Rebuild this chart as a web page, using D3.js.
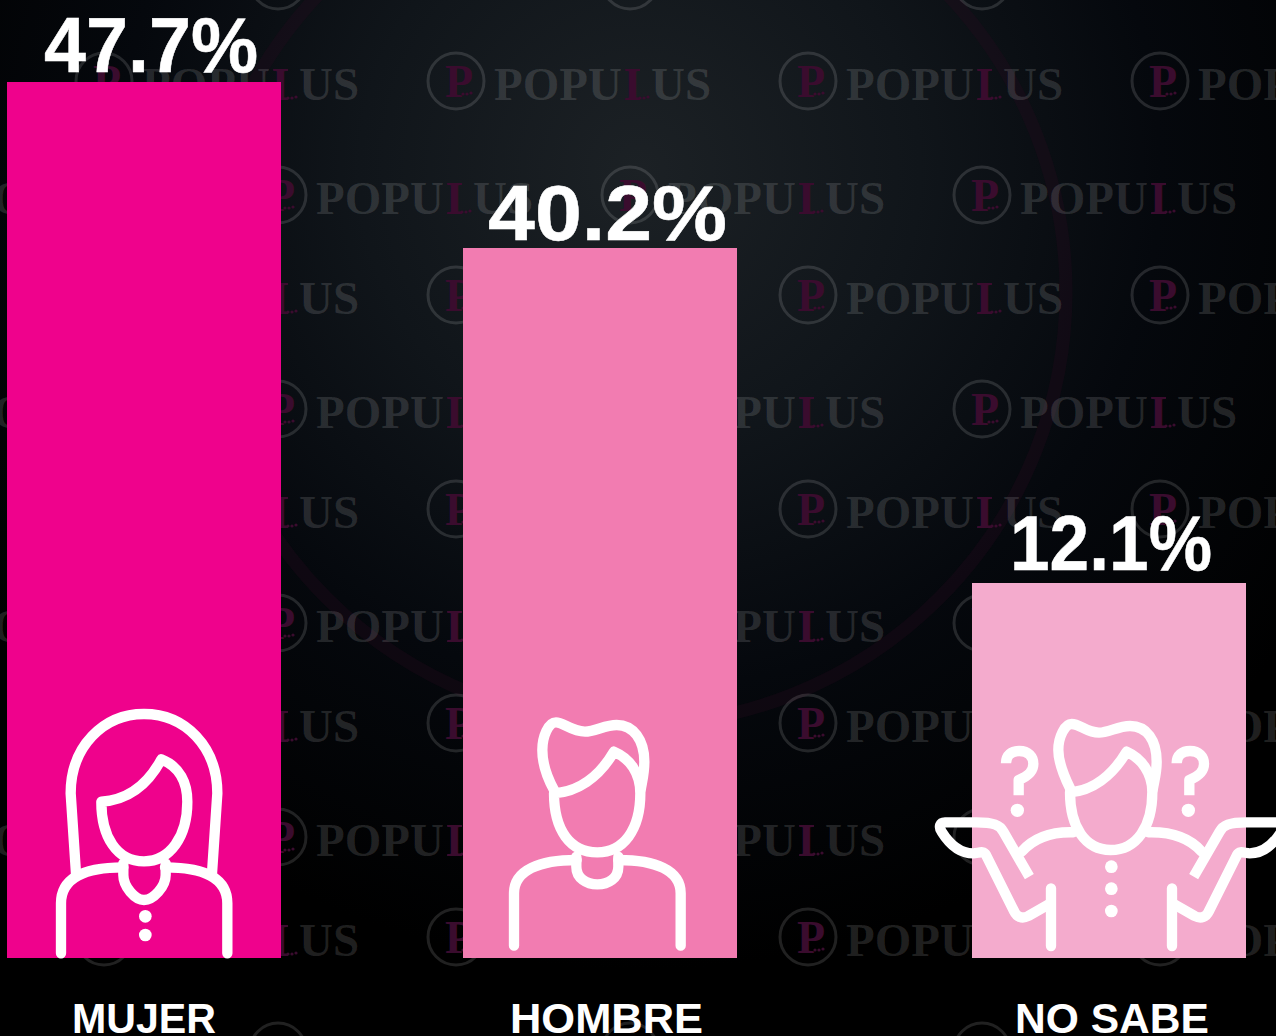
<!DOCTYPE html>
<html>
<head>
<meta charset="utf-8">
<script src="https://cdn.jsdelivr.net/npm/d3@7"></script>
<style>
  html, body { margin: 0; padding: 0; background: #000; overflow: hidden; }
  svg { display: block; }
</style>
</head>
<body>
<svg id="chart" width="1276" height="1036"></svg>
<script>
const categorias = ['MUJER', 'HOMBRE', 'NO SABE'];
const valores = [47.7, 40.2, 12.1];
const cores = ['#ef028c', '#f27cb1', '#f4abcd'];

const width = 1276;
const height = 1036;
const baseY = 958;
const barWidth = 274;

const svg = d3.select('#chart');

/*fundo*/
const defs = svg.append('defs');
const grad = defs.append('radialGradient')
    .attr('id', 'fundo')
    .attr('gradientUnits', 'userSpaceOnUse')
    .attr('cx', 640).attr('cy', 170).attr('r', 800);
grad.append('stop').attr('offset', '0%').attr('stop-color', '#1c2125');
grad.append('stop').attr('offset', '35%').attr('stop-color', '#10151a');
grad.append('stop').attr('offset', '65%').attr('stop-color', '#05080d');
grad.append('stop').attr('offset', '100%').attr('stop-color', '#000000');

/*so a haste do L aparece na marca d'agua*/
defs.append('clipPath')
    .attr('id', 'hasteL')
    .append('rect')
    .attr('x', 197).attr('y', -25).attr('width', 15).attr('height', 45);

svg.append('rect')
    .attr('width', width)
    .attr('height', height)
    .attr('fill', 'url(#fundo)');

svg.append('circle')
    .attr('cx', 633).attr('cy', 292).attr('r', 433)
    .attr('fill', 'none')
    .attr('stroke', '#2a0a22')
    .attr('stroke-opacity', 0.28)
    .attr('stroke-width', 13);

/*marca d'agua*/
function marca (x, y) {
    const g = svg.append('g').attr('transform', `translate(${x}, ${y})`);
    const vinho = '#3a0c2e';
    g.append('circle')
        .attr('cx', 28).attr('cy', -4).attr('r', 28)
        .attr('fill', 'none')
        .attr('stroke', '#ffffff')
        .attr('stroke-opacity', 0.13)
        .attr('stroke-width', 3);
    g.append('text')
        .attr('x', 17).attr('y', 12)
        .attr('font-family', '"Liberation Serif"')
        .attr('font-weight', 700)
        .attr('font-size', 46)
        .attr('fill', vinho)
        .text('P');
    const escrita = [['POPU', 66], ['US', 223]];
    escrita.forEach(function (e) {
        g.append('text')
            .attr('x', e[1]).attr('y', 15)
            .attr('font-family', '"Liberation Serif"')
            .attr('font-weight', 700)
            .attr('font-size', 47)
            .attr('fill', '#ffffff')
            .attr('fill-opacity', 0.13)
            .text(e[0]);
    });
    g.append('text')
        .attr('x', 196).attr('y', 15)
        .attr('clip-path', 'url(#hasteL)')
        .attr('font-family', '"Liberation Serif"')
        .attr('font-weight', 700)
        .attr('font-size', 47)
        .attr('fill', vinho)
        .text('L');
    [[35, 9], [39, 9], [43, 8], [212, 13], [216, 13], [220, 12]].forEach(function (p) {
        g.append('circle')
            .attr('cx', p[0]).attr('cy', p[1]).attr('r', 1.6)
            .attr('fill', vinho);
    });
}

d3.range(-1, 5).forEach(function (i) {
    d3.range(0, 4).forEach(function (j) {
        marca(76 + j * 352, 85 + i * 214);
        marca(-102 + j * 352, 199 + i * 214);
    });
});

/*escalas: as barras do original nao sao proporcionais aos valores*/
const xScale = d3.scaleOrdinal()
    .domain(categorias)
    .range([7, 463, 972]);

const yScale = d3.scaleLinear()
    .domain([0, 12.1, 40.2, 47.7])
    .range([baseY, 583, 248, 82]);

const xValor = d3.scaleOrdinal().domain(categorias).range([151, 607.5, 1111]);
const larguraValor = d3.scaleOrdinal().domain(categorias).range([214, 239, 202]);
const folgaValor = d3.scaleOrdinal().domain(categorias).range([10, 8, 13]);
const xNome = d3.scaleOrdinal().domain(categorias).range([144, 606.5, 1112]);
const larguraNome = d3.scaleOrdinal().domain(categorias).range([144, 193, 194]);

const dados = categorias.map((c, i) => ({ name: c, value: valores[i], cor: cores[i] }));

const barGroups = svg.selectAll('.barra')
    .data(dados)
    .enter()
    .append('g')
    .attr('class', 'barra');

barGroups
    .append('rect')
    .attr('fill', (g) => g.cor)
    .attr('x', (g) => xScale(g.name))
    .attr('y', (g) => yScale(g.value))
    .attr('height', (g) => baseY - yScale(g.value))
    .attr('width', barWidth);

barGroups
    .append('text')
    .attr('x', (g) => xValor(g.name))
    .attr('y', (g) => yScale(g.value) - folgaValor(g.name))
    .attr('text-anchor', 'middle')
    .attr('textLength', (g) => larguraValor(g.name))
    .attr('lengthAdjust', 'spacingAndGlyphs')
    .attr('font-family', '"Liberation Sans"')
    .attr('font-weight', 700)
    .attr('font-size', 78)
    .attr('fill', '#ffffff')
    .attr('stroke', '#ffffff')
    .attr('stroke-width', 0.5)
    .text((g) => `${g.value.toFixed(1)}%`);

barGroups
    .append('text')
    .attr('x', (g) => xNome(g.name))
    .attr('y', 1033)
    .attr('text-anchor', 'middle')
    .attr('textLength', (g) => larguraNome(g.name))
    .attr('lengthAdjust', 'spacingAndGlyphs')
    .attr('font-family', '"Liberation Sans"')
    .attr('font-weight', 700)
    .attr('font-size', 42)
    .attr('fill', '#ffffff')
    .text((g) => g.name);

/*icones*/
function icone (ox, oy) {
    return svg.append('g')
        .attr('transform', `translate(${ox}, ${oy}) scale(${1 / 3})`)
        .attr('fill', 'none')
        .attr('stroke', '#ffffff')
        .attr('stroke-width', 31)
        .attr('stroke-linecap', 'round')
        .attr('stroke-linejoin', 'round');
}

function pontos (g, lista, r) {
    lista.forEach(function (p) {
        g.append('circle')
            .attr('cx', p[0]).attr('cy', p[1]).attr('r', r)
            .attr('fill', '#ffffff').attr('stroke', 'none');
    });
}

const mulher = icone(0, 690);
mulher.append('path').attr('d', 'M228 550 L212 310 C212 170 310 72 432 72 C555 72 652 170 652 310 L636 550');
mulher.append('path').attr('d', 'M304 335 C380 330 440 290 484 208 C540 230 562 280 562 335 C562 440 510 514 432 514 C350 514 304 440 304 335 Z');
mulher.append('path').attr('d', 'M183 790 L183 640 C183 560 260 532 370 532 M495 532 C605 532 682 560 682 640 L682 790');
mulher.append('path').attr('d', 'M370 520 L370 555 C370 590 405 630 432 630 C460 630 497 590 497 555 L497 520');
pontos(mulher, [[436, 679], [436, 735]], 19);

const homem = icone(480, 690);
homem.append('path').attr('d', 'M222 300 C200 260 187 220 187 180 C187 140 205 97 228 97 C250 97 275 125 315 125 C345 125 375 105 410 105 C460 105 493 150 493 215 C493 250 487 270 482 300');
homem.append('path').attr('d', 'M222 310 C290 305 355 265 402 185 C450 205 481 250 481 310 C481 420 430 487 352 487 C270 487 222 420 222 310 Z');
homem.append('path').attr('d', 'M102 767 L102 610 C102 540 180 510 290 510 M415 510 C525 510 602 540 602 610 L602 767');
homem.append('path').attr('d', 'M289 500 L289 530 C289 565 320 583 352 583 C385 583 415 565 415 530 L415 500');

const duvida = icone(920, 690);
duvida.append('path').attr('d', 'M450 295 C428 250 415 215 415 180 C415 140 435 102 455 102 C480 102 500 128 537 128 C565 128 595 108 630 108 C680 108 710 150 710 215 C710 250 703 270 698 300');
duvida.append('path').attr('d', 'M450 307 C515 302 575 260 620 185 C665 205 697 250 697 305 C697 410 650 480 572 480 C495 480 450 410 450 307 Z');
duvida.append('path').attr('d', 'M305 485 C340 445 390 425 460 427 M845 485 C810 445 760 425 685 427');
const braco = 'M328 560 L250 425 C240 405 220 397 170 397 L75 397 C60 397 55 410 65 425 C90 465 120 490 160 490 C175 490 190 480 198 495 L283 665 C290 680 305 688 325 678 L392 640';
duvida.append('path').attr('d', braco).attr('stroke-linecap', 'butt');
duvida.append('path').attr('d', braco).attr('stroke-linecap', 'butt')
    .attr('transform', 'translate(1149, 0) scale(-1, 1)');
duvida.append('path').attr('d', 'M393 595 L393 768 M756 595 L756 768');
const pergunta = 'M258 220 C258 195 275 183 298 183 C325 183 340 200 340 222 C340 245 325 258 296 270 L296 316';
duvida.append('path').attr('d', pergunta).attr('stroke-linecap', 'butt');
duvida.append('path').attr('d', pergunta).attr('stroke-linecap', 'butt')
    .attr('transform', 'translate(512, 0)');
pontos(duvida, [[292, 361], [805, 361]], 20);
pontos(duvida, [[574, 530], [574, 596], [574, 663]], 19);
</script>
</body>
</html>
